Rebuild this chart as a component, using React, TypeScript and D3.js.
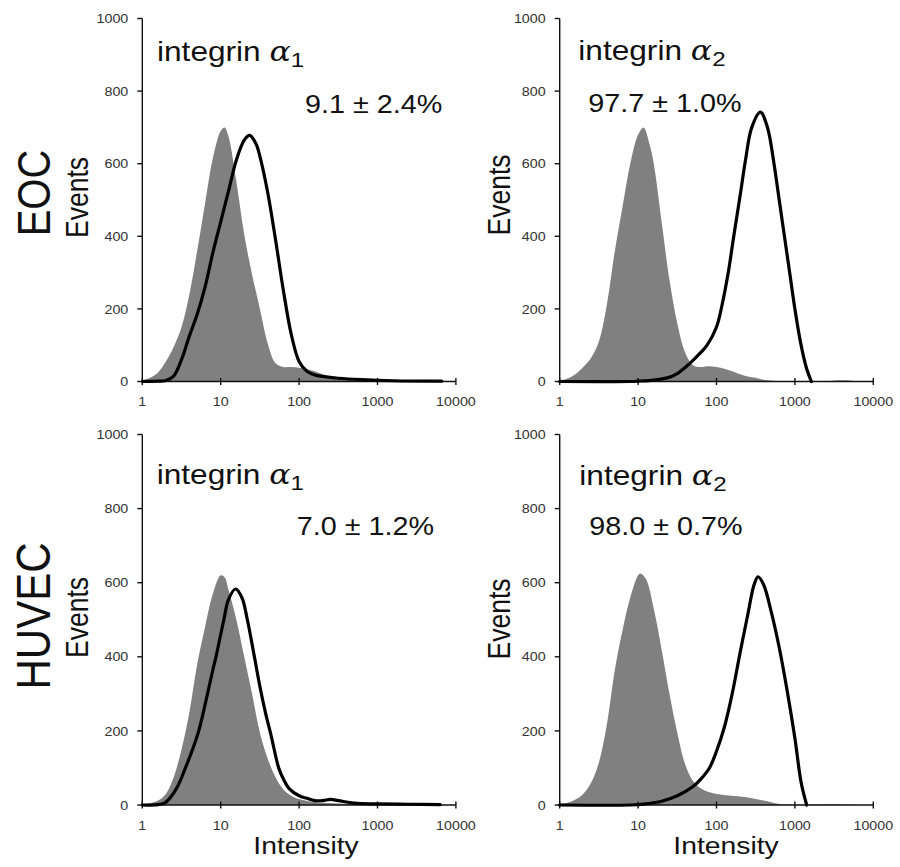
import React from 'react';
import * as d3 from 'd3';

// ---------- axis ticks ----------
const xTicks = [1, 10, 100, 1000, 10000];
const xTickLabels = ['1', '10', '100', '1000', '10000'];
const yTicks = [0, 200, 400, 600, 800, 1000];
const yTickLabels = ['0', '200', '400', '600', '800', '1000'];

// ---------- text ----------
const rowLabels = ['EOC', 'HUVEC'];
const titleBase = 'integrin ';
const titleGreek = 'α';
const titleSubs = ['1', '2', '1', '2'];
const percentLabels = ['9.1 ± 2.4%', '97.7 ± 1.0%', '7.0 ± 1.2%', '98.0 ± 0.7%'];
const yAxisTitle = 'Events';
const xAxisTitle = 'Intensity';

// ---------- data (log10 intensity, events) ----------
// EOC, integrin α1
const eocA1CtrlLog = [0, 0.1, 0.2, 0.3, 0.4, 0.5, 0.6, 0.7, 0.8, 0.9, 1.0, 1.05, 1.1, 1.2, 1.3, 1.4, 1.5, 1.6, 1.7, 1.8, 1.9, 2.0, 2.1, 2.2, 2.3, 2.4, 2.5, 2.7, 3.0, 3.5, 3.8];
const eocA1CtrlEv = [3, 10, 25, 55, 95, 150, 240, 360, 490, 615, 690, 700, 675, 550, 405, 295, 200, 105, 50, 40, 40, 38, 34, 28, 20, 12, 8, 4, 2, 1, 0];
const eocA1StainLog = [0, 0.2, 0.3, 0.4, 0.5, 0.6, 0.7, 0.8, 0.9, 1.0, 1.1, 1.2, 1.3, 1.37, 1.45, 1.5, 1.6, 1.7, 1.8, 1.9, 2.0, 2.1, 2.2, 2.3, 2.5, 2.8, 3.2, 3.82];
const eocA1StainEv = [0, 1, 3, 15, 60, 125, 185, 260, 355, 440, 525, 610, 665, 678, 655, 620, 520, 390, 250, 130, 55, 28, 18, 14, 9, 5, 2, 1];

// EOC, integrin α2
const eocA2CtrlLog = [0, 0.1, 0.2, 0.3, 0.4, 0.5, 0.6, 0.7, 0.8, 0.9, 1.0, 1.07, 1.15, 1.2, 1.3, 1.4, 1.5, 1.6, 1.7, 1.8, 1.9, 2.0, 2.1, 2.2, 2.3, 2.4, 2.5, 2.6, 2.8, 3.0, 3.4, 3.5, 3.7, 3.8];
const eocA2CtrlEv = [2, 8, 20, 40, 65, 110, 210, 355, 480, 600, 680, 700, 650, 600, 440, 280, 160, 80, 45, 40, 42, 40, 35, 28, 20, 14, 10, 5, 1, 0, 0, 3, 3, 0];
const eocA2StainLog = [0, 0.9, 1.0, 1.2, 1.37, 1.5, 1.66, 1.8, 1.88, 2.0, 2.07, 2.15, 2.22, 2.3, 2.37, 2.45, 2.56, 2.65, 2.73, 2.8, 2.87, 2.94, 3.0, 3.07, 3.15, 3.21];
const eocA2StainEv = [0, 0, 1, 4, 10, 22, 50, 80, 100, 150, 210, 300, 400, 510, 610, 700, 742, 700, 605, 500, 395, 290, 200, 110, 35, 0];

// HUVEC, integrin α1
const huvA1CtrlLog = [0, 0.1, 0.2, 0.3, 0.4, 0.5, 0.6, 0.7, 0.8, 0.9, 1.0, 1.05, 1.1, 1.2, 1.3, 1.4, 1.5, 1.6, 1.7, 1.8, 1.9, 2.0, 2.2, 2.5, 3.0, 3.5];
const huvA1CtrlEv = [3, 5, 12, 30, 75, 150, 250, 380, 480, 570, 620, 615, 580, 500, 400, 300, 195, 125, 75, 42, 25, 16, 8, 4, 1, 0];
const huvA1StainLog = [0, 0.2, 0.28, 0.35, 0.45, 0.55, 0.65, 0.72, 0.8, 0.9, 0.94, 1.04, 1.1, 1.19, 1.27, 1.34, 1.43, 1.5, 1.57, 1.64, 1.74, 1.8, 1.87, 2.0, 2.1, 2.2, 2.3, 2.4, 2.5, 2.7, 3.0, 3.4, 3.8];
const huvA1StainEv = [0, 1, 5, 18, 50, 100, 155, 200, 270, 365, 400, 500, 555, 583, 560, 500, 400, 320, 250, 190, 100, 70, 45, 25, 18, 12, 12, 15, 12, 5, 3, 2, 1];

// HUVEC, integrin α2
const huvA2CtrlLog = [0, 0.1, 0.2, 0.3, 0.4, 0.5, 0.6, 0.7, 0.8, 0.9, 1.0, 1.03, 1.1, 1.2, 1.3, 1.4, 1.5, 1.6, 1.7, 1.8, 1.9, 2.0, 2.2, 2.4, 2.6, 2.8, 3.0, 3.5, 3.8];
const huvA2CtrlEv = [3, 6, 15, 30, 60, 115, 215, 360, 470, 560, 620, 625, 610, 530, 420, 300, 195, 110, 65, 45, 35, 30, 25, 20, 12, 3, 1, 2, 0];
const huvA2StainLog = [0, 0.9, 1.1, 1.3, 1.5, 1.7, 1.8, 1.91, 2.0, 2.1, 2.2, 2.3, 2.4, 2.48, 2.53, 2.6, 2.7, 2.8, 2.9, 3.0, 3.08, 3.15];
const huvA2StainEv = [0, 0, 3, 10, 25, 50, 70, 100, 145, 210, 300, 410, 515, 595, 616, 595, 520, 425, 310, 180, 60, 0];

// ---------- layout (positions only) ----------
const W = 900;
const H = 867;
const DEC = 78.4;
const COLX = [142.3, 559.7];
const ROWY = [
  { top: 18.5, bottom: 381.5 },
  { top: 434.5, bottom: 805 },
];
const FONT = "'Liberation Sans', Arial, Helvetica, sans-serif";
const SX = 1.15;
const GRAY = '#808080';

const panels = [
  { col: 0, row: 0, cl: eocA1CtrlLog, ce: eocA1CtrlEv, sl: eocA1StainLog, se: eocA1StainEv, title: [157, 61], pct: [305, 113.3], events: [87.5, 197.5] },
  { col: 1, row: 0, cl: eocA2CtrlLog, ce: eocA2CtrlEv, sl: eocA2StainLog, se: eocA2StainEv, title: [578.3, 60], pct: [588.3, 111.7], events: [509.5, 195] },
  { col: 0, row: 1, cl: huvA1CtrlLog, ce: huvA1CtrlEv, sl: huvA1StainLog, se: huvA1StainEv, title: [156.7, 483.5], pct: [296.7, 535], events: [87.5, 617.5] },
  { col: 1, row: 1, cl: huvA2CtrlLog, ce: huvA2CtrlEv, sl: huvA2StainLog, se: huvA2StainEv, title: [579.3, 485], pct: [589.3, 535], events: [509.5, 619] },
];

const rowLabelPos = [
  [50, 193],
  [50, 616],
];
const intensityPos = [
  [306, 854],
  [726, 854],
];

function Panel({ p, i }: { p: any; i: number }) {
  const x0 = COLX[p.col];
  const { top, bottom } = ROWY[p.row];
  const x = d3.scaleLog().domain([1, 10000]).range([x0, x0 + 4 * DEC]);
  const y = d3.scaleLinear().domain([0, 1000]).range([bottom, top]);

  const ctrl = p.cl.map((l: number, k: number) => [Math.pow(10, l), p.ce[k]]);
  const stain = p.sl.map((l: number, k: number) => [Math.pow(10, l), p.se[k]]);

  const curve = d3.curveCatmullRom.alpha(0.5);
  const area = d3
    .area<number[]>()
    .x((d) => x(d[0]))
    .y0(y(0))
    .y1((d) => Math.min(y(0), y(d[1])))
    .curve(curve);
  const line = d3
    .line<number[]>()
    .x((d) => x(d[0]))
    .y((d) => y(d[1]))
    .curve(curve);

  const [tx, ty] = p.title;
  const [px, py] = p.pct;
  const [ex, ey] = p.events;

  return (
    <g>
      <path d={area(ctrl) || ''} fill={GRAY} stroke="none" />
      {/* axes */}
      <line x1={x0} x2={x0} y1={y(0)} y2={y(1000)} stroke="#111" strokeWidth={1.4} />
      <line x1={x(1)} x2={x(10000)} y1={y(0)} y2={y(0)} stroke="#111" strokeWidth={1.4} />
      {yTicks.map((t, k) => (
        <g key={'y' + k}>
          <line x1={x0 - 5} x2={x0} y1={y(t)} y2={y(t)} stroke="#111" strokeWidth={1.4} />
          <text
            transform={`translate(${x0 - 14},${y(t) + 4.6}) scale(1.1,1)`}
            fontSize={13}
            fontFamily={FONT}
            textAnchor="end"
            fill="#333"
          >
            {yTickLabels[k]}
          </text>
        </g>
      ))}
      {xTicks.map((t, k) => (
        <g key={'x' + k}>
          <line x1={x(t)} x2={x(t)} y1={y(0) - 3.5} y2={y(0) + 3.5} stroke="#111" strokeWidth={1.4} />
          <text
            transform={`translate(${x(t)},${y(0) + 24.6}) scale(1.1,1)`}
            fontSize={13}
            fontFamily={FONT}
            textAnchor="middle"
            fill="#333"
          >
            {xTickLabels[k]}
          </text>
        </g>
      ))}
      <path d={line(stain) || ''} fill="none" stroke="#000" strokeWidth={3.2} strokeLinejoin="round" strokeLinecap="round" />
      {/* title */}
      <text transform={`translate(${tx},${ty}) scale(${SX},1)`} fontSize={27.5} fontFamily={FONT} fill="#111">
        {titleBase}
        <tspan fontFamily="'DejaVu Serif', serif" fontStyle="italic">{titleGreek}</tspan>
        <tspan fontSize={21} dy={6}>{titleSubs[i]}</tspan>
      </text>
      <text transform={`translate(${px},${py}) scale(${SX},1)`} fontSize={25} fontFamily={FONT} fill="#111">
        {percentLabels[i]}
      </text>
      <text
        transform={`translate(${ex},${ey}) scale(${SX},1) rotate(-90)`}
        fontSize={26.5}
        fontFamily={FONT}
        textAnchor="middle"
        fill="#111"
      >
        {yAxisTitle}
      </text>
    </g>
  );
}

export default function App() {
  return (
    <svg
      width={W}
      height={H}
      viewBox={`0 0 ${W} ${H}`}
      style={{ position: 'absolute', left: 0, top: 0, display: 'block', background: '#fff' }}
    >
      <rect x={0} y={0} width={W} height={H} fill="#fff" />
      {panels.map((p, i) => (
        <Panel key={i} p={p} i={i} />
      ))}
      {rowLabels.map((lab, k) => (
        <text
          key={lab}
          transform={`translate(${rowLabelPos[k][0]},${rowLabelPos[k][1]}) scale(${SX},1) rotate(-90)`}
          fontSize={k === 0 ? 40 : 42}
          fontFamily={FONT}
          textAnchor="middle"
          fill="#111"
        >
          {lab}
        </text>
      ))}
      {intensityPos.map((pos, k) => (
        <text
          key={'int' + k}
          transform={`translate(${pos[0]},${pos[1]}) scale(${SX},1)`}
          fontSize={24.6}
          fontFamily={FONT}
          textAnchor="middle"
          fill="#111"
        >
          {xAxisTitle}
        </text>
      ))}
    </svg>
  );
}
